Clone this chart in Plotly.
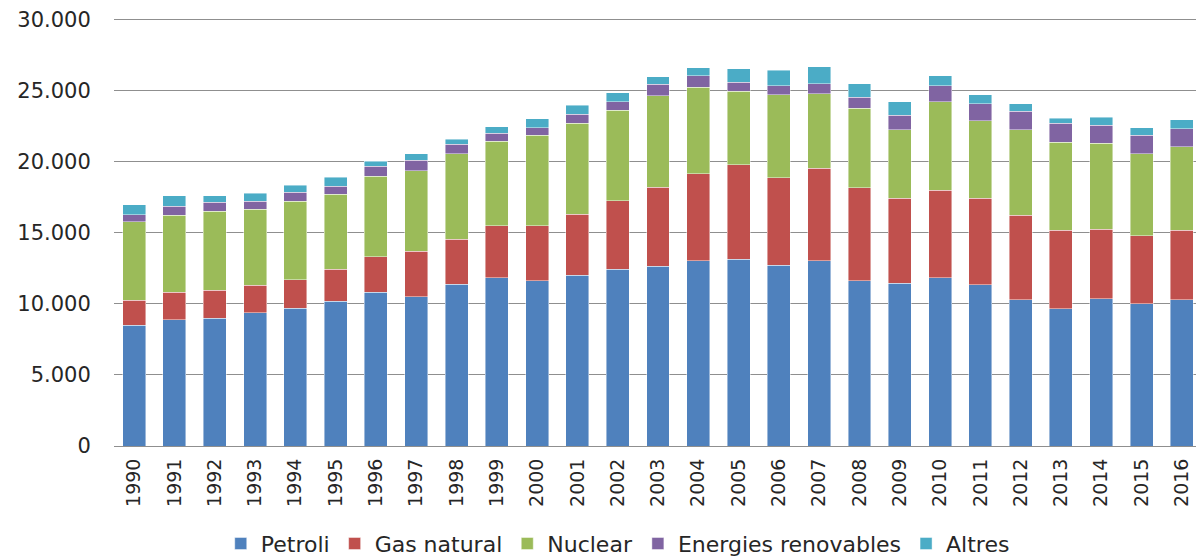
import plotly.graph_objects as go

years = [str(y) for y in range(1990, 2017)]

petroli = [8500, 8900, 8980, 9380, 9700, 10190, 10820, 10520, 11380, 11850,
           11620, 12010, 12430, 12650, 13040, 13140, 12740, 13040, 11620, 11450,
           11850, 11360, 10280, 9650, 10350, 10020, 10280]
gas_natural = [1750, 1910, 2000, 1930, 2000, 2260, 2500, 3200, 3180, 3670,
               3900, 4300, 4820, 5570, 6130, 6670, 6130, 6530, 6550, 5990,
               6150, 6080, 5970, 5550, 4910, 4770, 4910]
nuclear = [5520, 5450, 5540, 5350, 5520, 5260, 5680, 5660, 6010, 5940,
           6340, 6410, 6370, 6430, 6080, 5150, 5850, 5240, 5620, 4820,
           6250, 5450, 6010, 6200, 6040, 5780, 5870]
renovables = [500, 610, 640, 570, 640, 570, 680, 730, 660, 560,
              560, 650, 630, 800, 820, 630, 630, 700, 770, 1030,
              1100, 1190, 1290, 1330, 1290, 1290, 1260]
altres = [700, 750, 470, 570, 500, 640, 380, 470, 370, 470,
          610, 630, 610, 560, 560, 960, 1100, 1190, 940, 940,
          730, 660, 560, 330, 540, 540, 630]

series_names = ["Petroli", "Gas natural", "Nuclear", "Energies renovables", "Altres"]
series_values = [petroli, gas_natural, nuclear, renovables, altres]
colors = ["#4F81BD", "#C0504D", "#9BBB59", "#8064A2", "#4BACC6"]

y_ticks = [0, 5000, 10000, 15000, 20000, 25000, 30000]

fig = go.Figure()
for name, vals, col in zip(series_names, series_values, colors):
    fig.add_trace(go.Bar(
        x=years, y=vals, name=name,
        marker=dict(color=col, line=dict(color="rgba(255,255,255,0.55)", width=0.8)),
    ))

# The page body has an 8px default margin, so the figure is 8px smaller.
fig.update_layout(
    barmode="stack",
    bargap=0.43,
    width=1196, height=550,
    margin=dict(l=106, r=2, t=9, b=112, autoexpand=False),
    paper_bgcolor="white",
    plot_bgcolor="white",
    separators=",.",
    font=dict(family="DejaVu Sans", color="#262626"),
    showlegend=True,
    legend=dict(
        orientation="h",
        xref="paper", x=0.463, xanchor="center",
        yref="container", y=0.026, yanchor="middle",
        font=dict(family="DejaVu Sans", size=22, color="#262626"),
        traceorder="normal",
        itemwidth=30,
    ),
)

fig.update_yaxes(
    range=[0, 30200],
    tickvals=y_ticks,
    tickformat=",d",
    showgrid=True, gridcolor="#8f8f8f", gridwidth=1,
    zeroline=False,
    showline=False,
    automargin=False,
    tickfont=dict(family="DejaVu Sans", size=21, color="#262626"),
    ticks="outside", ticklen=18, tickcolor="white",
)
fig.update_xaxes(
    tickangle=-90,
    showgrid=False,
    showline=True, linecolor="#8f8f8f", linewidth=1,
    automargin=False,
    tickfont=dict(family="DejaVu Sans", size=19, color="#262626"),
    ticks="outside", ticklen=4, tickcolor="white",
)

fig.write_html("out.html")
